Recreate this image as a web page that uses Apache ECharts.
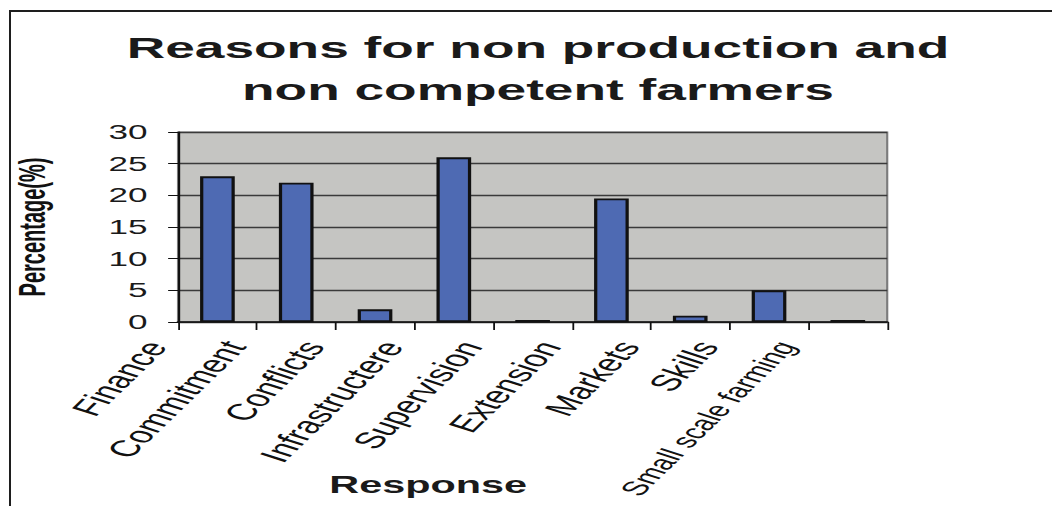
<!DOCTYPE html>
<html>
<head>
<meta charset="utf-8">
<script src="https://cdn.jsdelivr.net/npm/echarts@6/dist/echarts.min.js"></script>
<style>
  html, body { margin: 0; padding: 0; background: #ffffff; overflow: hidden; }
  body { width: 1052px; height: 506px; position: relative; }
  #frame {
    position: absolute; left: 9px; top: 10px; width: 1100px; height: 600px;
    border-left: 2px solid #1e1e1e; border-top: 2px solid #1e1e1e;
  }
  /* the chart is laid out narrow and widened horizontally, giving the wide lettering */
  #chart {
    position: absolute; left: 0; top: 0;
    width: 584.44px; height: 506px;
    transform: scaleX(1.8); transform-origin: 0 0;
  }
</style>
</head>
<body>
<div id="frame"></div>
<div id="chart"></div>
<script>
// Survey responses: reasons for non production and non competent farmers
const categories = [
  'Finance', 'Commitment', 'Conflicts', 'Infrastructere', 'Supervision',
  'Extension', 'Markets', 'Skills', 'Small scale farming'
];
const percentages = [23, 22, 2, 26, 0.3, 19.5, 1, 5, 0.3];

const yMin = 0;
const yMax = 30;
const yStep = 5;

const chart = echarts.init(document.getElementById('chart'), null, { renderer: 'svg' });

const FONT = '"Liberation Sans", Arial, sans-serif';

// the longest category name gets a slightly smaller font so it stays on the page
const categoryItems = categories.map((c, i) =>
  i === categories.length - 1
    ? { value: c, textStyle: { fontFamily: FONT, fontSize: 20, color: '#111' } }
    : c
);

chart.setOption({
  animation: false,
  title: {
    text: 'Reasons for non production and\nnon competent farmers',
    left: 298.9,
    top: 27,
    padding: 0,
    textAlign: 'center',
    textStyle: {
      fontFamily: FONT,
      fontSize: 29.6,
      fontWeight: 'bold',
      lineHeight: 42,
      color: '#1a1a1a'
    }
  },
  grid: {
    left: 98.9,
    right: 91.1,
    top: 132,
    bottom: 184,
    outerBoundsMode: 'none',
    containLabel: false,
    show: true,
    backgroundColor: '#c5c5c2',
    borderColor: '#7c7c7c',
    borderWidth: 1.2
  },
  xAxis: {
    type: 'category',
    data: categoryItems,
    name: 'Response',
    nameLocation: 'middle',
    nameGap: 152,
    nameMoveOverlap: false,
    nameTextStyle: {
      fontFamily: FONT,
      fontSize: 23,
      fontWeight: 'bold',
      color: '#1a1a1a',
      padding: [0, 116, 0, 0]
    },
    axisLine: { lineStyle: { color: '#111', width: 1.6 } },
    axisTick: { show: true, interval: 0, length: 8, lineStyle: { color: '#111', width: 1 } },
    axisLabel: {
      interval: 0,
      rotate: 60,
      margin: -38,
      padding: [0, 68, 0, 0],
      hideOverlap: false,
      fontFamily: FONT,
      fontSize: 23,
      color: '#111'
    }
  },
  yAxis: {
    type: 'value',
    min: yMin,
    max: yMax,
    interval: yStep,
    name: 'Percentage(%)',
    nameLocation: 'middle',
    nameGap: 71,
    nameTextStyle: {
      fontFamily: FONT,
      fontSize: 20,
      fontWeight: 'bold',
      color: '#111'
    },
    axisLine: { show: true, lineStyle: { color: '#111', width: 1.2 } },
    axisTick: { show: true, length: 5.5, lineStyle: { color: '#111', width: 1 } },
    axisLabel: {
      margin: 17,
      fontFamily: FONT,
      fontSize: 19.5,
      color: '#1a1a1a'
    },
    splitLine: { show: true, lineStyle: { color: '#3a3a3a', width: 1.3 } }
  },
  series: [{
    type: 'bar',
    data: percentages,
    barWidth: '44%',
    itemStyle: {
      color: '#4e6ab3',
      borderColor: '#111',
      borderWidth: 1.8
    }
  }]
});
</script>
</body>
</html>
